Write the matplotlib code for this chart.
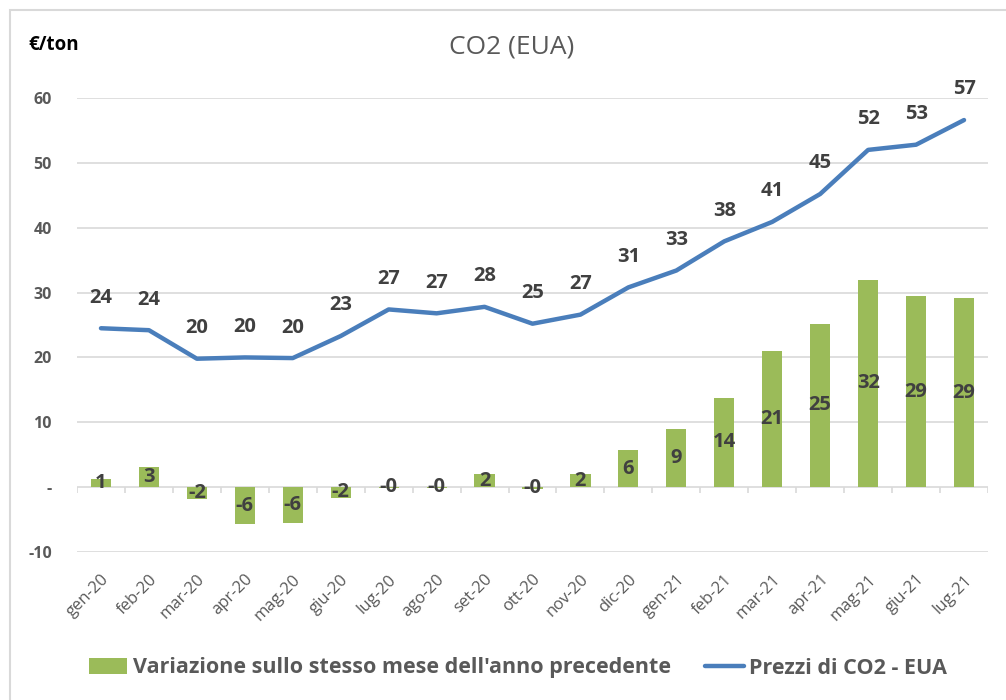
import matplotlib.pyplot as plt
import numpy as np
from matplotlib.patches import Rectangle

months = ['gen-20', 'feb-20', 'mar-20', 'apr-20', 'mag-20', 'giu-20', 'lug-20',
          'ago-20', 'set-20', 'ott-20', 'nov-20', 'dic-20', 'gen-21', 'feb-21',
          'mar-21', 'apr-21', 'mag-21', 'giu-21', 'lug-21']
prices = [24.5, 24.2, 19.8, 20.0, 19.9, 23.3, 27.4, 26.8, 27.8, 25.2, 26.6,
          30.8, 33.4, 37.9, 40.9, 45.2, 52.0, 52.8, 56.6]
variation = [1.2, 3.1, -1.9, -5.7, -5.5, -1.6, -0.1, -0.1, 2.0, -0.3, 2.0,
             5.7, 9.0, 13.8, 21.0, 25.2, 32.0, 29.4, 29.1]
yticks = [-10, 0, 10, 20, 30, 40, 50, 60]
ytick_labels = ['-10', '-', '10', '20', '30', '40', '50', '60']

green = '#9BBB59'
blue = '#4A7EBB'
txt = '#404040'
grey = '#595959'
grid = '#D9D9D9'

plt.rcParams['font.family'] = ['Open Sans', 'DejaVu Sans']

fig = plt.figure(figsize=(10.06, 7.0), dpi=100)
W, H = 1006, 700
ax = fig.add_axes([77 / W, 1 - 552 / H, (988 - 77) / W, (552 - 98) / H])

# chart border
fig.patches.append(Rectangle((10 / W, -0.1), 1.2, 1 - 10 / H + 0.1, transform=fig.transFigure,
                             fill=False, edgecolor=grid, lw=1.5))

x = np.arange(len(months))
ax.set_xlim(-0.5, len(months) - 0.5)
ax.set_ylim(-10, 60)

for y in yticks:
    ax.axhline(y, color=grid, lw=1.2, zorder=0)
ax.vlines(np.arange(len(months) + 1) - 0.5, -0.9, 0, color=grid, lw=1.2, zorder=0)

bars = ax.bar(x, variation, width=0.42, color=green, zorder=2)
line, = ax.plot(x, prices, color=blue, lw=3.2, zorder=3, solid_capstyle='round')

for xi, v in zip(x, variation):
    s = '%d' % round(v)
    if round(v) == 0 and v < 0:
        s = '-0'
    ax.text(xi, v / 2, s, ha='center', va='center', fontsize=14.5,
            fontweight='bold', color=txt, zorder=4)

for xi, p in zip(x, prices):
    ax.annotate('%d' % round(p), (xi, p), xytext=(0, 22), textcoords='offset points',
                ha='center', va='center', fontsize=14.5, fontweight='bold',
                color=txt, zorder=4, annotation_clip=False)

for s in ax.spines.values():
    s.set_visible(False)
ax.set_yticks(yticks)
ax.set_yticklabels(ytick_labels, fontsize=11.5, fontweight='bold', color=grey)
ax.tick_params(axis='y', length=0, pad=18)
ax.set_xticks(x)
ax.set_xticklabels(months, rotation=45, ha='right', rotation_mode='anchor',
                   fontsize=12, color=grey)
ax.tick_params(axis='x', length=0, pad=14)

fig.text(28 / W, 1 - 45 / H, '€/ton', fontsize=13.5, fontweight='bold', color='black',
         va='center', ha='left')
fig.text(512 / W, 1 - 47 / H, 'CO2 (EUA)', fontsize=19, color=grey, ha='center', va='center')

leg = fig.legend([bars, line],
                 ["Variazione sullo stesso mese dell'anno precedente", 'Prezzi di CO2 - EUA'],
                 loc='center', bbox_to_anchor=(518 / W, 1 - 668 / H),
                 ncol=2, frameon=False, handlelength=1.8, handletextpad=0.25,
                 columnspacing=1.6,
                 prop={'family': ['Open Sans'], 'weight': 'bold', 'size': 15.5})
for t in leg.get_texts():
    t.set_color(grey)

fig.savefig('out.png', dpi=100)
